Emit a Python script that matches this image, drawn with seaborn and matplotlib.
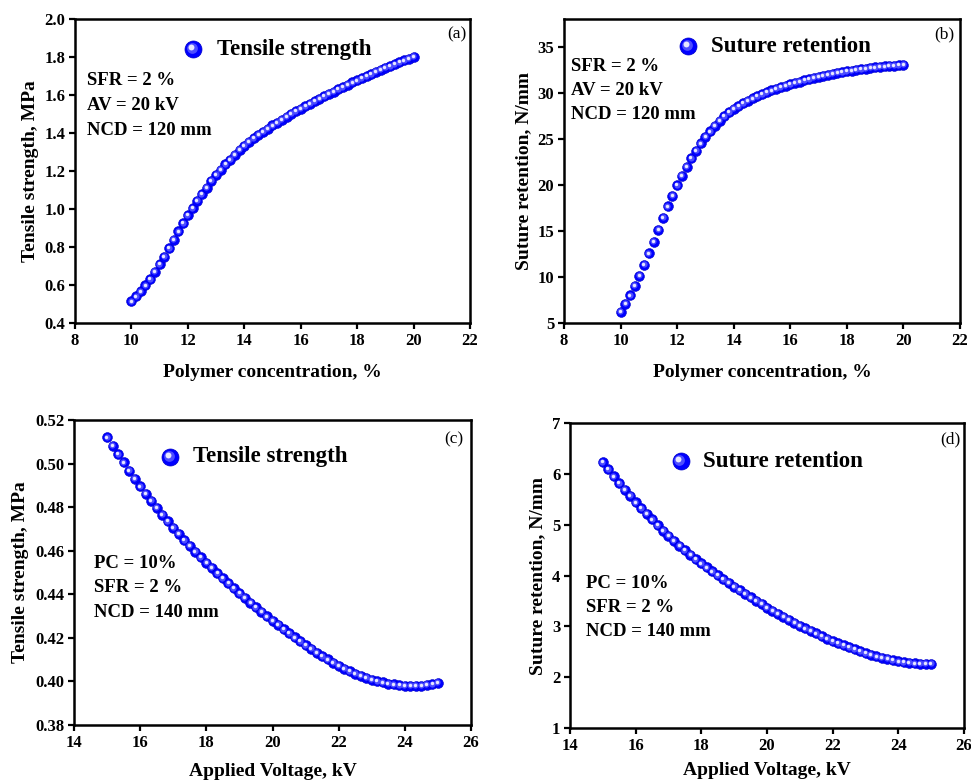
import numpy as np
import seaborn as sns
import matplotlib.pyplot as plt
from matplotlib.transforms import offset_copy

# ---- data (61 evenly spaced runs per sweep) ----
pc = np.linspace(10, 20, 61)          # polymer concentration, %
av = np.linspace(15, 25, 61)          # applied voltage, kV

ts_pc = [0.514, 0.540, 0.566, 0.598, 0.631, 0.671, 0.710, 0.750, 0.794, 0.838,
         0.882, 0.925, 0.968, 1.005, 1.043, 1.078, 1.113, 1.148, 1.180, 1.206,
         1.236, 1.259, 1.285, 1.311, 1.334, 1.353, 1.372, 1.390, 1.407, 1.423,
         1.440, 1.455, 1.470, 1.485, 1.500, 1.514, 1.528, 1.542, 1.555, 1.568,
         1.581, 1.594, 1.606, 1.618, 1.630, 1.642, 1.654, 1.666, 1.677, 1.688,
         1.699, 1.710, 1.721, 1.732, 1.742, 1.752, 1.762, 1.772, 1.782, 1.791,
         1.800]

sr_pc = [6.2, 7.1, 8.0, 9.05, 10.13, 11.3, 12.55, 13.8, 15.1, 16.4,
         17.65, 18.8, 19.96, 21.0, 21.97, 22.9, 23.7, 24.5, 25.2, 25.8,
         26.4, 26.95, 27.45, 27.88, 28.24, 28.55, 28.85, 29.12, 29.38, 29.62,
         29.85, 30.05, 30.25, 30.43, 30.6, 30.77, 30.92, 31.07, 31.21, 31.35,
         31.48, 31.6, 31.72, 31.83, 31.94, 32.04, 32.14, 32.23, 32.32, 32.4,
         32.48, 32.55, 32.62, 32.68, 32.74, 32.8, 32.85, 32.9, 32.94, 32.98,
         33.02]

ts_av = [0.5120, 0.5081, 0.5043, 0.5005, 0.4968, 0.4931, 0.4895, 0.4862, 0.4829, 0.4797,
         0.4766, 0.4735, 0.4705, 0.4677, 0.4649, 0.4622, 0.4596, 0.4570, 0.4545, 0.4521,
         0.4497, 0.4474, 0.4451, 0.4428, 0.4405, 0.4383, 0.4361, 0.4340, 0.4319, 0.4298,
         0.4278, 0.4259, 0.4240, 0.4221, 0.4202, 0.4184, 0.4166, 0.4149, 0.4132, 0.4116,
         0.4101, 0.4086, 0.4072, 0.4059, 0.4047, 0.4036, 0.4026, 0.4017, 0.4008, 0.4001,
         0.3995, 0.3990, 0.3986, 0.3983, 0.3981, 0.3980, 0.3980, 0.3981, 0.3984, 0.3988,
         0.3993]

sr_av = [6.23, 6.09, 5.95, 5.82, 5.69, 5.565, 5.44, 5.325, 5.215, 5.105,
         4.99, 4.885, 4.78, 4.685, 4.59, 4.50, 4.41, 4.325, 4.24, 4.16,
         4.08, 4.005, 3.93, 3.855, 3.78, 3.71, 3.64, 3.57, 3.505, 3.44,
         3.37, 3.31, 3.25, 3.19, 3.13, 3.07, 3.01, 2.96, 2.91, 2.86,
         2.81, 2.76, 2.71, 2.67, 2.63, 2.59, 2.55, 2.51, 2.47, 2.44,
         2.41, 2.385, 2.36, 2.335, 2.31, 2.295, 2.28, 2.27, 2.265, 2.26,
         2.26]

# ---- style ----
sns.set_style("ticks")
plt.rcParams['font.family'] = ['Liberation Serif', 'DejaVu Serif']
plt.rcParams['font.weight'] = 'bold'
plt.rcParams['axes.labelweight'] = 'bold'
plt.rcParams['axes.linewidth'] = 1.8
plt.rcParams['axes.edgecolor'] = 'black'
plt.rcParams['text.color'] = 'black'
plt.rcParams['axes.labelcolor'] = 'black'
plt.rcParams['xtick.color'] = 'black'
plt.rcParams['ytick.color'] = 'black'

BLUE = '#0000ff'
MID = '#4d4dff'

fig = plt.figure(figsize=(9.71, 7.84), dpi=100)


def sphere_points(ax, x, y, size=50, trans=None, off=0.6):
    """Blue balls with a light spot, like the 3D spheres in Origin."""
    if trans is None:
        sns.scatterplot(x=x, y=y, ax=ax, s=size, color=BLUE, edgecolor='#0000c8',
                        linewidth=0.4, zorder=3, legend=False)
        trans = ax.transData
    else:
        ax.scatter(x, y, s=size, color=BLUE, edgecolor='#0000c8', linewidth=0.5,
                   zorder=3, transform=trans, clip_on=False)
    ax.scatter(x, y, s=size * 0.4, color=MID, linewidth=0, zorder=4, clip_on=False,
               transform=offset_copy(trans, fig=fig, x=-off * 0.6, y=off * 0.6, units='points'))
    ax.scatter(x, y, s=size * 0.12, color='#e8e8ff', linewidth=0, zorder=5, clip_on=False,
               transform=offset_copy(trans, fig=fig, x=-off, y=off, units='points'))


def panel(rect, x, y, xlim, ylim, xticks, yticks, yfmt, xlabel, ylabel, name,
          leg_xy, leg_tx, notes, note_xy, tag, tag_y, xpad=11):
    ax = fig.add_axes(rect)
    sphere_points(ax, x, y)
    ax.set_xlim(*xlim)
    ax.set_ylim(*ylim)
    ax.set_xticks(xticks)
    ax.set_yticks(yticks)
    ax.set_yticklabels([yfmt.format(v) for v in yticks])
    ax.tick_params(direction='out', length=4.5, width=1.6, labelsize=12,
                   top=False, right=False, pad=2.5)
    for lab in ax.get_xticklabels() + ax.get_yticklabels():
        lab.set_fontweight('bold')
    ax.set_xlabel(xlabel, fontsize=14, fontweight='bold', labelpad=xpad)
    ax.set_ylabel(ylabel, fontsize=14, fontweight='bold', labelpad=4)

    # legend drawn by hand
    sphere_points(ax, [leg_xy[0]], [leg_xy[1]], size=150, trans=ax.transAxes, off=1.6)
    ax.text(leg_tx, leg_xy[1], name, transform=ax.transAxes, fontsize=16.5,
            fontweight='bold', va='center', ha='left')

    # process conditions
    for i, t in enumerate(notes):
        ax.text(note_xy[0], note_xy[1] - i * note_xy[2], t, transform=ax.transAxes,
                fontsize=13.5, fontweight='bold', va='center', ha='left')

    ax.text(tag[0], tag_y, tag[1], transform=ax.transAxes, fontsize=12.5,
            fontweight='normal', va='center', ha='right')
    return ax


notes_top = ['SFR = 2 %', 'AV = 20 kV', 'NCD = 120 mm']
notes_bot = ['PC = 10%', 'SFR = 2 %', 'NCD = 140 mm']

panel([0.0772, 0.588, 0.4068, 0.3878], pc, ts_pc, (8, 22), (0.4, 2.0),
      range(8, 23, 2), np.arange(0.4, 2.01, 0.2), '{:.1f}',
      'Polymer concentration, %', 'Tensile strength, MPa', 'Tensile strength',
      (0.299, 0.901), 0.359, notes_top, (0.03, 0.796, 0.081), (0.992, '(a)'), 0.95)

panel([0.5809, 0.588, 0.4078, 0.3878], pc, sr_pc, (8, 22), (5, 38),
      range(8, 23, 2), list(range(5, 36, 5)), '{:d}',
      'Polymer concentration, %', 'Suture retention, N/mm', 'Suture retention',
      (0.313, 0.911), 0.371, notes_top, (0.018, 0.845, 0.080), (0.985, '(b)'), 0.95)

panel([0.0762, 0.0753, 0.4089, 0.389], av, ts_av, (14, 26), (0.38, 0.52),
      range(14, 27, 2), np.arange(0.38, 0.521, 0.02), '{:.2f}',
      'Applied Voltage, kV', 'Tensile strength, MPa', 'Tensile strength',
      (0.242, 0.879), 0.30, notes_bot, (0.05, 0.531, 0.081), (0.98, '(c)'), 0.938,
      xpad=9)

panel([0.587, 0.0714, 0.4058, 0.389], av, sr_av, (14, 26), (1, 7),
      range(14, 27, 2), list(range(1, 8)), '{:d}',
      'Applied Voltage, kV', 'Suture retention, N/mm', 'Suture retention',
      (0.281, 0.875), 0.338, notes_bot, (0.04, 0.475, 0.079), (0.99, '(d)'), 0.948,
      xpad=6)

fig.savefig('out.png', dpi=100, facecolor='white')
